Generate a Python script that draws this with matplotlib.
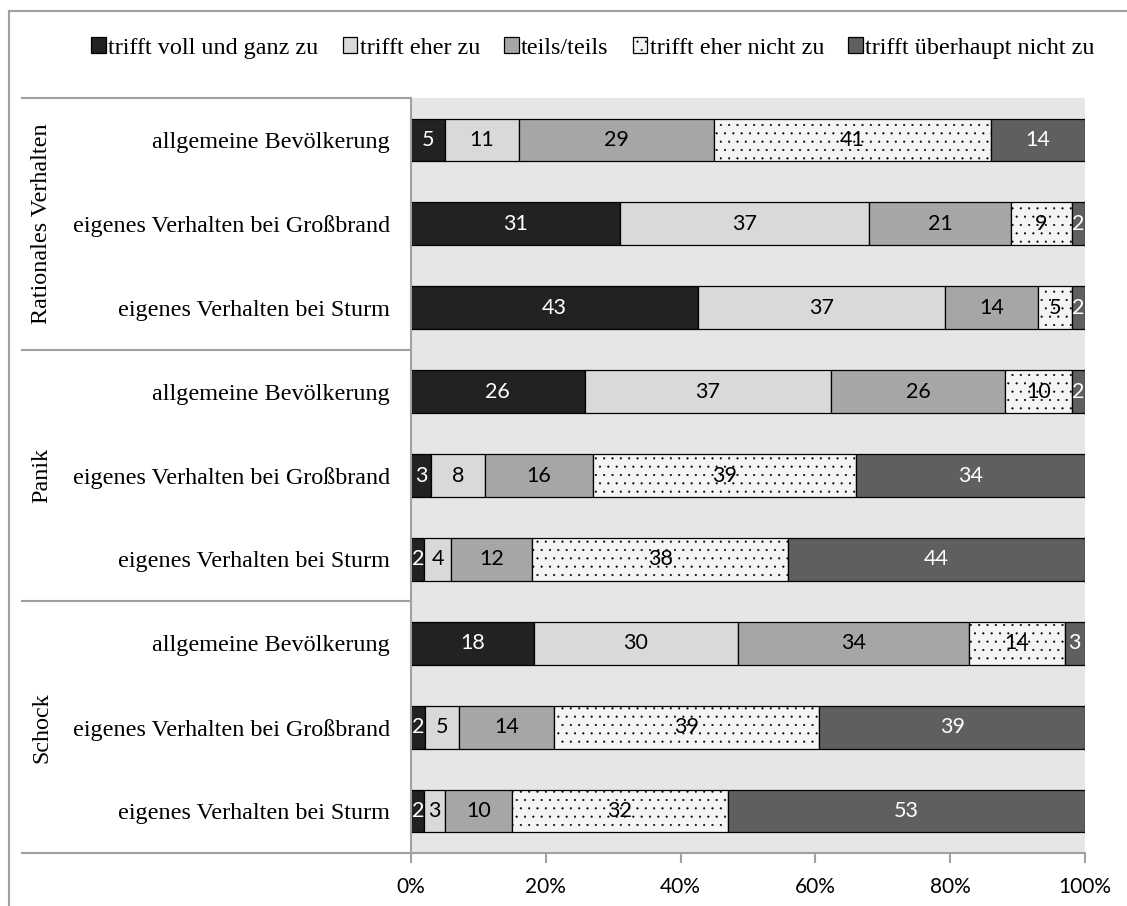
import numpy as np
import matplotlib
matplotlib.use("Agg")
import matplotlib.pyplot as plt
from matplotlib.patches import Patch
from matplotlib.lines import Line2D
from matplotlib.transforms import blended_transform_factory

# Answer categories (stack order, left to right)
answers = ["trifft voll und ganz zu", "trifft eher zu", "teils/teils",
           "trifft eher nicht zu", "trifft überhaupt nicht zu"]

groups = ["Rationales Verhalten", "Panik", "Schock"]
items = ["allgemeine Bevölkerung",
         "eigenes Verhalten bei Großbrand",
         "eigenes Verhalten bei Sturm"]

# Percentages per row (top to bottom), one list per answer category
voll_zu     = [5, 31, 43, 26, 3, 2, 18, 2, 2]
eher_zu     = [11, 37, 37, 37, 8, 4, 30, 5, 3]
teils       = [29, 21, 14, 26, 16, 12, 34, 14, 10]
eher_nicht  = [41, 9, 5, 10, 39, 38, 14, 39, 32]
gar_nicht   = [14, 2, 2, 2, 34, 44, 3, 39, 53]

xtick_vals = [0, 20, 40, 60, 80, 100]

series = [voll_zu, eher_zu, teils, eher_nicht, gar_nicht]
colors = ["#222222", "#d9d9d9", "#a6a6a6", "#f4f4f4", "#5f5f5f"]
hatches = [None, None, None, "..", None]
text_colors = ["white", "black", "black", "black", "white"]

plt.rcParams["hatch.linewidth"] = 0.3

data = np.array(series, dtype=float)          # shape (5, 9)
totals = data.sum(axis=0)
shares = data / totals                        # 100 % stacked

row_labels = items * len(groups)
y = np.arange(len(row_labels))

fig = plt.figure(figsize=(11.27, 9.06), dpi=100)
ax = fig.add_axes([411 / 1127, 1 - 853 / 906, 674 / 1127, 755 / 906])
ax.set_facecolor("#e6e6e6")

serif = "Liberation Serif"
sans = "Lato"
serif_size = 17.4

left = np.zeros(len(y))
for k in range(len(series)):
    ax.barh(y, shares[k], left=left, height=0.51, color=colors[k],
            edgecolor="black", linewidth=0.9, hatch=hatches[k], zorder=2)
    for i in range(len(y)):
        ax.text(left[i] + shares[k][i] / 2, y[i], f"{int(data[k][i])}",
                ha="center", va="center", color=text_colors[k],
                fontsize=15.5, family=sans, zorder=3)
    left += shares[k]

ax.set_xlim(0, 1)
ax.set_ylim(len(y) - 0.5, -0.5)

ax.set_yticks(y)
ax.set_yticklabels(row_labels, family=serif, fontsize=serif_size)
ax.tick_params(axis="y", length=0, pad=15)

ax.set_xticks([v / 100 for v in xtick_vals])
ax.set_xticklabels([f"{v}%" for v in xtick_vals], family=sans, fontsize=15)
ax.tick_params(axis="x", length=7, width=1.5, color="#a0a0a0", pad=10)

for s in ["top", "right"]:
    ax.spines[s].set_visible(False)
for s in ["left", "bottom"]:
    ax.spines[s].set_color("#a0a0a0")
    ax.spines[s].set_linewidth(1.5)

# Group separators and group titles in the label column
trans = blended_transform_factory(ax.transAxes, ax.transData)
x_line0 = (22 - 411) / 674
for b in [-0.5, 2.5, 5.5, 8.5]:
    ax.add_line(Line2D([x_line0, 0], [b, b], transform=trans, color="#a0a0a0",
                       lw=1.5, clip_on=False))
for g, name in enumerate(groups):
    ax.text((42 - 411) / 674, 3 * g + 1, name, transform=trans, rotation=90,
            ha="center", va="center", family=serif, fontsize=serif_size)

# Outer frame (left and top edges)
fig.add_artist(Line2D([9 / 1127, 9 / 1127], [0, 1 - 11 / 906],
                      transform=fig.transFigure, color="#a0a0a0", lw=1.5))
fig.add_artist(Line2D([9 / 1127, 1], [1 - 11 / 906, 1 - 11 / 906],
                      transform=fig.transFigure, color="#a0a0a0", lw=1.5))

handles = [Patch(facecolor=colors[k], edgecolor="black", hatch=hatches[k],
                 linewidth=0.9) for k in range(len(series))]
fig.legend(handles, answers, loc="center", bbox_to_anchor=(593 / 1127, 1 - 48 / 906),
           ncol=5, frameon=False, prop={"family": serif, "size": serif_size},
           handlelength=0.6, handleheight=0.6, handletextpad=0.1,
           columnspacing=1.0)

fig.savefig("out.png", dpi=100)
